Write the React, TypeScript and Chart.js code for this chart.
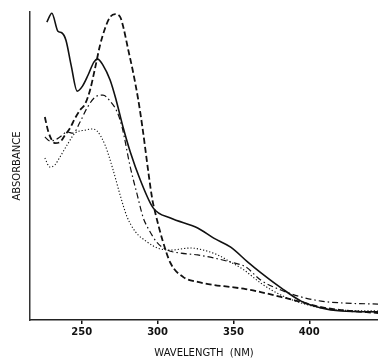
import React, { useEffect, useRef } from "react";
import { Chart, registerables } from "chart.js";

Chart.register(...registerables);

const X_TICKS = [250, 300, 350, 400];

const solidX = [227, 230.3, 234.3, 237, 239.6, 243, 247, 250.5, 254.2, 258, 260.5, 264, 268.7, 272.7, 277.4, 282, 288.6, 297.2, 308.5, 326.4, 337, 348.2, 359.5, 368.2, 381.4, 394.6, 407.8, 421, 446];
const solidY = [0.993, 1.023, 0.963, 0.957, 0.933, 0.85, 0.763, 0.78, 0.817, 0.86, 0.87, 0.85, 0.8, 0.733, 0.64, 0.56, 0.467, 0.373, 0.34, 0.307, 0.273, 0.243, 0.193, 0.157, 0.107, 0.063, 0.04, 0.03, 0.027];

const dashX = [225.7, 227.7, 230.3, 232.3, 235.6, 239, 242.3, 245.6, 248.9, 252.2, 255.5, 258.8, 262.1, 265.4, 268.7, 272, 275.4, 277.4, 280.7, 284, 287.3, 290, 292, 294, 296.6, 298.5, 303.2, 308.5, 317, 326.4, 337, 348.2, 358.1, 368, 381.3, 394.6, 407.8, 421, 446];
const dashY = [0.677, 0.633, 0.6, 0.59, 0.593, 0.617, 0.64, 0.673, 0.7, 0.72, 0.767, 0.84, 0.917, 0.973, 1.01, 1.02, 1.01, 0.977, 0.9, 0.823, 0.733, 0.643, 0.567, 0.49, 0.4, 0.357, 0.267, 0.19, 0.143, 0.127, 0.117, 0.11, 0.103, 0.093, 0.077, 0.06, 0.043, 0.033, 0.023];

const dashDotX = [225.7, 229, 232.3, 235.6, 240.3, 244.3, 248.9, 253.5, 258.8, 264, 268.7, 273.4, 276.6, 282, 286.6, 290.6, 293.3, 299.9, 306.5, 315.1, 326.4, 337, 348.2, 358.1, 368, 381.3, 394.6, 407.8, 421, 445.5];
const dashDotY = [0.61, 0.597, 0.6, 0.61, 0.627, 0.623, 0.66, 0.707, 0.743, 0.75, 0.73, 0.693, 0.643, 0.51, 0.417, 0.34, 0.31, 0.257, 0.233, 0.223, 0.217, 0.207, 0.193, 0.177, 0.133, 0.1, 0.077, 0.063, 0.057, 0.053];

const dotX = [225.7, 229, 232.3, 235.6, 240.3, 245.6, 252.2, 256.8, 260.2, 265.4, 270.7, 275.4, 279.8, 285.3, 293.2, 299.9, 308.5, 321.7, 330.3, 339.6, 348.2, 356.9, 368, 381.3, 394.6, 407.8, 421, 446];
const dotY = [0.54, 0.51, 0.517, 0.543, 0.583, 0.623, 0.633, 0.637, 0.63, 0.583, 0.5, 0.415, 0.345, 0.295, 0.26, 0.24, 0.233, 0.24, 0.233, 0.217, 0.193, 0.167, 0.123, 0.083, 0.057, 0.04, 0.033, 0.03];

const toPts = (xs: number[], ys: number[]) => xs.map((x, i) => ({ x, y: ys[i] }));

export default function App() {
  const ref = useRef<HTMLCanvasElement | null>(null);

  useEffect(() => {
    if (!ref.current) return;
    const base = {
      borderColor: "#111",
      pointRadius: 0,
      fill: false,
      tension: 0.35,
      cubicInterpolationMode: "monotone" as const,
    };
    const chart = new Chart(ref.current, {
      type: "line",
      data: {
        datasets: [
          { ...base, label: "solid", data: toPts(solidX, solidY), borderWidth: 1.6 },
          { ...base, label: "dashed", data: toPts(dashX, dashY), borderWidth: 1.8, borderDash: [6, 3] },
          { ...base, label: "dash-dot", data: toPts(dashDotX, dashDotY), borderWidth: 1.2, borderDash: [6, 3, 1.5, 3] },
          { ...base, label: "dotted", data: toPts(dotX, dotY), borderWidth: 1.1, borderDash: [1.2, 2] },
        ],
      },
      options: {
        animation: false,
        responsive: false,
        maintainAspectRatio: false,
        layout: { padding: { top: 12, left: 0, right: 0, bottom: 0 } },
        plugins: { legend: { display: false }, tooltip: { enabled: false } },
        scales: {
          x: {
            type: "linear",
            min: 215.9,
            max: 445.3,
            afterBuildTicks: (s: any) => {
              s.ticks = X_TICKS.map((v) => ({ value: v }));
            },
            afterFit: (s: any) => {
              s.height = 41;
            },
            grid: { display: true, drawOnChartArea: false, drawTicks: true, tickLength: 4, color: "#111", lineWidth: 1.5 },
            border: { display: true, color: "#222", width: 1.5 },
            ticks: {
              color: "#111",
              padding: 2,
              maxRotation: 0,
              font: { family: "DejaVu Sans", size: 10, weight: "bold" },
              callback: (v: any) => String(v),
            },
            title: {
              display: true,
              text: "WAVELENGTH  (NM)",
              color: "#111",
              padding: { top: 2, bottom: 2 },
              font: { family: "DejaVu Sans", size: 10 },
            },
          },
          y: {
            type: "linear",
            min: 0,
            max: 1.027,
            afterFit: (s: any) => {
              s.width = 30;
            },
            grid: { display: false },
            border: { display: true, color: "#333", width: 1.5 },
            ticks: { display: false },
            title: {
              display: true,
              text: "ABSORBANCE",
              color: "#111",
              padding: { top: 11, bottom: 0 },
              font: { family: "DejaVu Sans", size: 10 },
            },
          },
        },
      },
    });
    return () => chart.destroy();
  }, []);

  return (
    <div style={{ position: "fixed", left: 0, top: 0, width: 378, height: 361, background: "#fff" }}>
      <canvas ref={ref} width={378} height={361} style={{ width: 378, height: 361, display: "block" }} />
    </div>
  );
}
